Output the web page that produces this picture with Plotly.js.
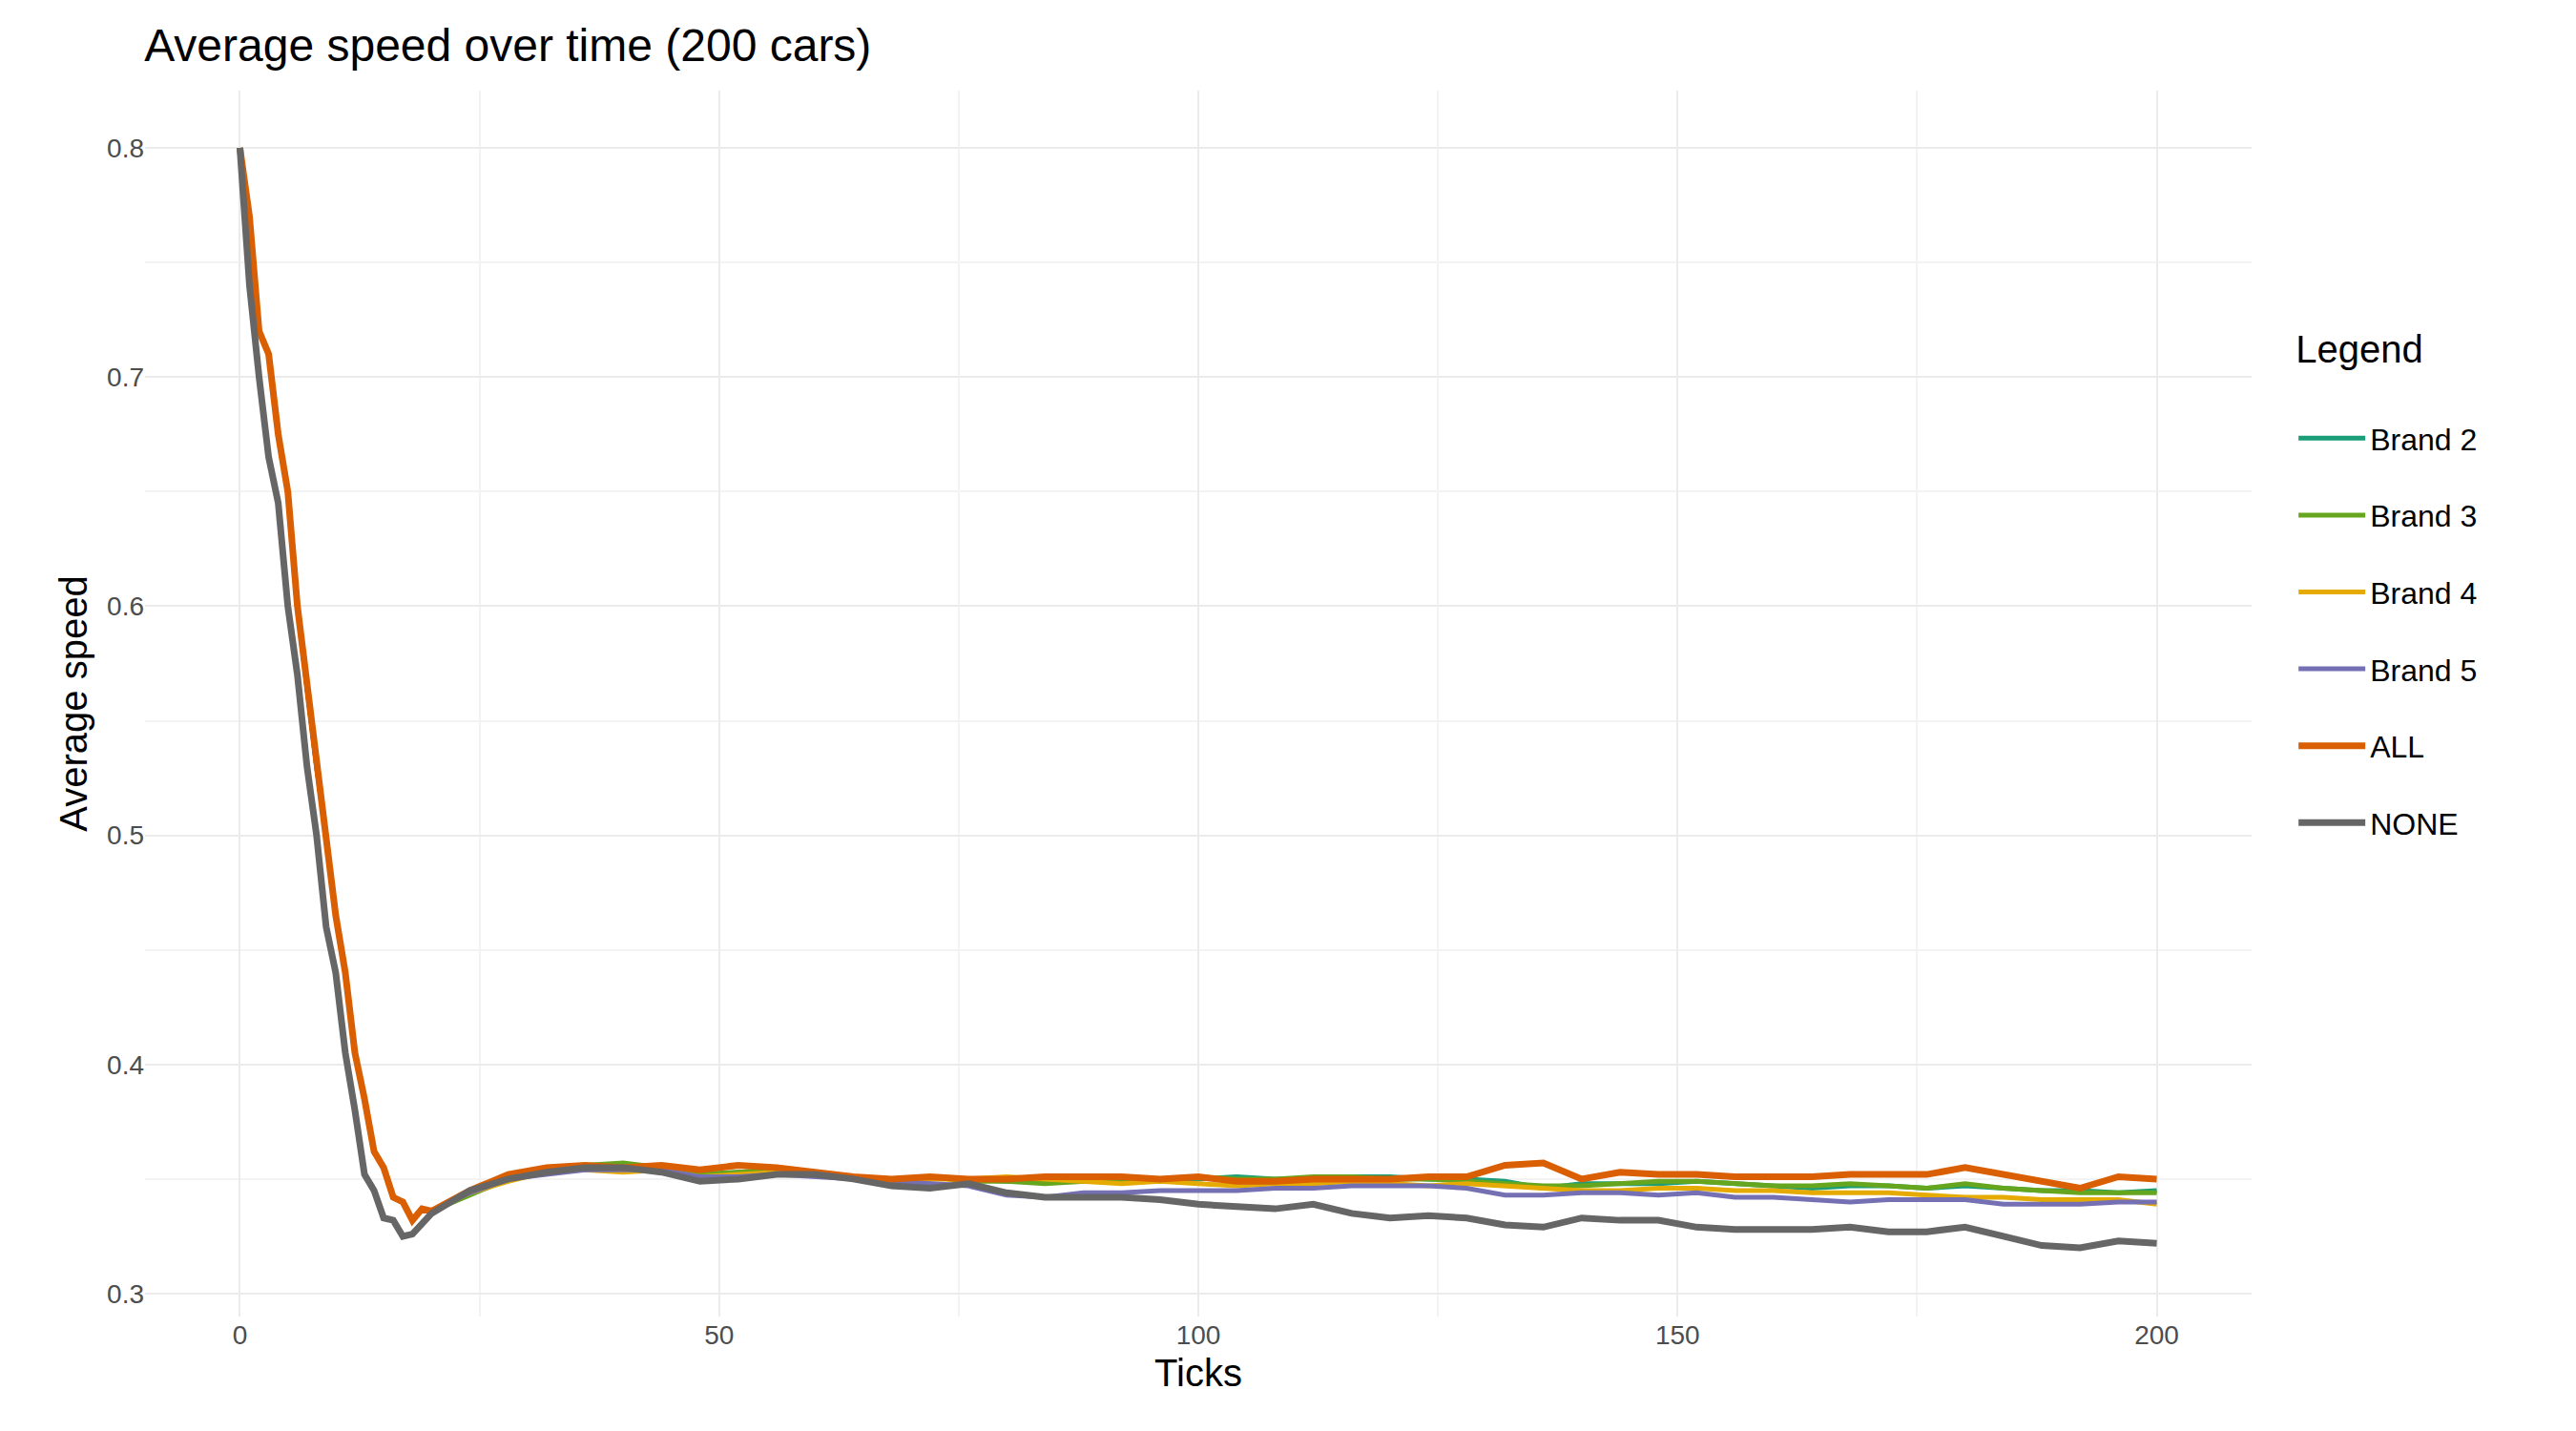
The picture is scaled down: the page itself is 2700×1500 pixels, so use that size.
<!DOCTYPE html>
<html>
<head>
<script src="https://cdn.plot.ly/plotly-3.0.1.min.js"></script>
<style>body{margin:0;background:#fff}</style>
</head>
<body>
<div id="chart" style="width:2700px;height:1500px"></div>
<script>
// ticks sampled: every tick to 20, then every 4
const ticks = [0,1,2,3,4,5,6,7,8,9,10,11,12,13,14,15,16,17,18,19,20,
  24,28,32,36,40,44,48,52,56,60,64,68,72,76,80,84,88,92,96,100,104,108,112,116,120,
  124,128,132,136,140,144,148,152,156,160,164,168,172,176,180,184,188,192,196,200];

const early = [0.8,0.77,0.72,0.71,0.675,0.65,0.6,0.565,0.53,0.5,0.465,0.44,0.405,0.385,0.362,0.355,0.342,0.34,0.332,0.337,0.336];

const brand2 = early.concat([0.344,0.35,0.353,0.355,0.356,0.355,0.352,0.353,0.354,0.352,0.351,0.35,0.351,0.35,0.349,0.349,0.349,0.349,0.35,0.35,0.351,0.35,0.35,0.351,0.351,
  0.35,0.35,0.349,0.346,0.348,0.348,0.348,0.349,0.348,0.347,0.346,0.347,0.347,0.346,0.347,0.346,0.345,0.345,0.344,0.345]);
const brand3 = early.concat([0.343,0.35,0.353,0.356,0.357,0.355,0.352,0.353,0.354,0.353,0.351,0.35,0.351,0.349,0.349,0.348,0.349,0.35,0.35,0.351,0.35,0.35,0.351,0.351,0.35,
  0.35,0.349,0.348,0.347,0.347,0.348,0.349,0.349,0.348,0.347,0.347,0.348,0.347,0.346,0.348,0.346,0.345,0.344,0.344,0.344]);
const brand4 = early.concat([0.344,0.349,0.353,0.354,0.353,0.354,0.351,0.352,0.353,0.352,0.35,0.349,0.35,0.35,0.351,0.35,0.349,0.348,0.349,0.348,0.347,0.348,0.348,0.349,0.348,
  0.347,0.348,0.347,0.346,0.345,0.345,0.346,0.346,0.345,0.345,0.344,0.344,0.344,0.343,0.342,0.342,0.341,0.341,0.341,0.339]);
const brand5 = early.concat([0.344,0.35,0.352,0.354,0.354,0.354,0.351,0.351,0.352,0.351,0.35,0.349,0.348,0.347,0.343,0.342,0.344,0.344,0.345,0.345,0.345,0.346,0.346,0.347,0.347,
  0.347,0.346,0.343,0.343,0.344,0.344,0.343,0.344,0.342,0.342,0.341,0.34,0.341,0.341,0.341,0.339,0.339,0.339,0.34,0.34]);
const all = early.concat([0.345,0.352,0.355,0.356,0.355,0.356,0.354,0.356,0.355,0.353,0.351,0.35,0.351,0.35,0.35,0.351,0.351,0.351,0.35,0.351,0.349,0.349,0.35,0.35,0.35,
  0.351,0.351,0.356,0.357,0.35,0.353,0.352,0.352,0.351,0.351,0.351,0.352,0.352,0.352,0.355,0.352,0.349,0.346,0.351,0.35]);
const none = [0.8,0.74,0.7,0.665,0.645,0.6,0.57,0.53,0.5,0.46,0.44,0.405,0.38,0.352,0.345,0.333,0.332,0.325,0.326,0.33,0.335,
  0.345,0.35,0.353,0.355,0.355,0.353,0.349,0.35,0.352,0.352,0.35,0.347,0.346,0.348,0.344,0.342,0.342,0.342,0.341,0.339,0.338,0.337,0.339,0.335,0.333,
  0.334,0.333,0.33,0.329,0.333,0.332,0.332,0.329,0.328,0.328,0.328,0.329,0.327,0.327,0.329,0.325,0.321,0.32,0.323,0.322];

const names = ["Brand 2","Brand 3","Brand 4","Brand 5","ALL","NONE"];
const series = [brand2, brand3, brand4, brand5, all, none];
const colors = ["#1B9E77","#66A61E","#E6AB02","#7570B3","#D95F02","#666666"];

const traces = series.map((s, i) => ({
  x: ticks, y: s, name: names[i], type: "scatter", mode: "lines", legendgroup: "g" + i,
  line: { color: colors[i], width: i >= 4 ? 7 : 5 },
}));

const ax = { showline: false, zeroline: false, gridcolor: "#ebebeb", gridwidth: 2,
  tickfont: { size: 28, color: "#4d4d4d" }, ticks: "" };

Plotly.newPlot("chart", traces, {
  width: 2700, height: 1500,
  font: { family: "Liberation Sans, Arial, sans-serif", color: "#000" },
  title: { text: "Average speed over time (200 cars)", x: 0.056, xanchor: "left", y: 0.98, font: { size: 48 } },
  margin: { l: 152, r: 340, t: 95, b: 120 },
  plot_bgcolor: "#fff", paper_bgcolor: "#fff",
  xaxis: Object.assign({}, ax, { range: [-9.9, 209.9], tickvals: [0,50,100,150,200], minor: { tickvals: [25,75,125,175], showgrid: true, gridcolor: "#f3f3f3", gridwidth: 1.5 },
    title: { text: "Ticks", font: { size: 40 }, standoff: 10 } }),
  yaxis: Object.assign({}, ax, { range: [0.29, 0.825], tickvals: [0.3,0.4,0.5,0.6,0.7,0.8], ticktext: ["0.3","0.4","0.5","0.6","0.7","0.8"],
    minor: { tickvals: [0.35,0.45,0.55,0.65,0.75], showgrid: true, gridcolor: "#f3f3f3", gridwidth: 1.5 },
    title: { text: "Average speed", font: { size: 40 }, standoff: 8 } }),
  legend: { x: 1.02, xanchor: "left", y: 0.6, yanchor: "middle", font: { size: 32 },
    title: { text: "Legend<br> ", font: { size: 40 } }, tracegroupgap: 36, itemwidth: 70 },
  showlegend: true,
}, { displayModeBar: false });
</script>
</body>
</html>
